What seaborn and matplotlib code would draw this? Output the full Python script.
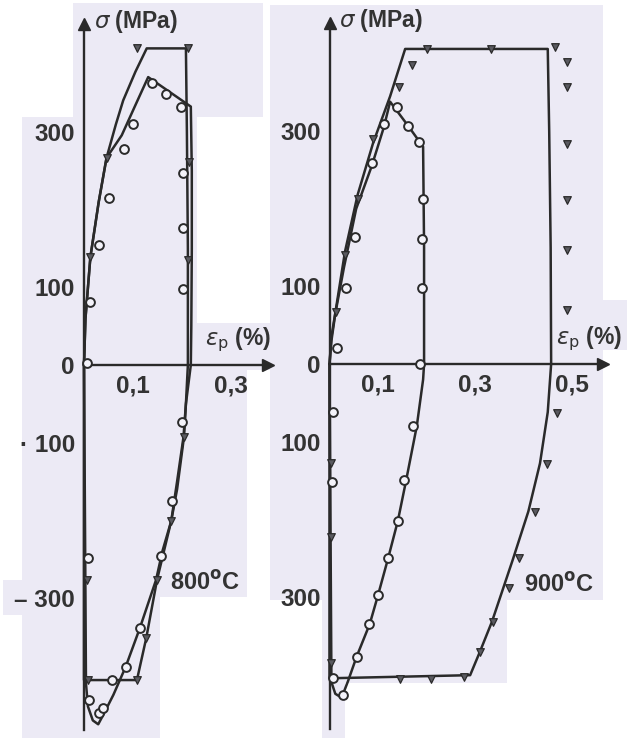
import numpy as np
import pandas as pd
import matplotlib
matplotlib.use("Agg")
import matplotlib.pyplot as plt
from matplotlib.patches import Rectangle
import seaborn as sns

sns.set_style("white")
plt.rcParams['font.family'] = ['Liberation Sans', 'DejaVu Sans']
plt.rcParams['mathtext.fontset'] = 'dejavusans'

# ---------------- data : 800 C ----------------
tri800_line_eps = [0, 0.003, 0.013, 0.03, 0.046, 0.065, 0.08, 0.105, 0.128, 0.208, 0.21, 0.212, 0.212,
                   0.208, 0.204, 0.19, 0.178, 0.149, 0.127, 0.108, 0.0, 0.0]
tri800_line_sig = [0, 60, 139, 210, 267, 310, 341, 378, 408, 408, 300, 150, 0,
                   -50, -93, -160, -201, -277, -352, -406, -406, 0]
cir800_line_eps = [0, 0.003, 0.013, 0.03, 0.046, 0.077, 0.105, 0.131, 0.218, 0.22, 0.22, 0.219, 0.218,
                   0.208, 0.203, 0.19, 0.178, 0.16, 0.147, 0.114, 0.085, 0.06, 0.04, 0.029, 0.018,
                   0.008, 0.004, 0.003, 0.0]
cir800_line_sig = [0, 60, 139, 210, 267, 296, 335, 371, 333, 250, 150, 50, 0,
                   -50, -93, -150, -201, -240, -277, -339, -389, -425, -450, -463, -458,
                   -440, -410, -300, 0]
cir800_eps = [0.138, 0.167, 0.198, 0.1, 0.082, 0.051, 0.031, 0.012, 0.202, 0.202, 0.202, 0.006,
              0.2, 0.18, 0.157, 0.114, 0.086, 0.057, 0.01, 0.031, 0.039, 0.008]
cir800_sig = [363, 349, 332, 311, 278, 215, 155, 81, 247, 177, 98, 3,
              -73, -175, -246, -339, -389, -406, -432, -448, -442, -249]
tri800_eps = [0.108, 0.212, 0.047, 0.012, 0.215, 0.213, 0.204, 0.178, 0.149, 0.127, 0.008, 0.108, 0.006]
tri800_sig = [408, 408, 267, 139, 262, 135, -93, -201, -277, -352, -406, -406, -277]

# ---------------- data : 900 C ----------------
tri900_line_eps = [0, 0.004, 0.013, 0.032, 0.058, 0.09, 0.125, 0.156, 0.45, 0.453, 0.456, 0.457,
                   0.45, 0.434, 0.41, 0.378, 0.335, 0.31, 0.29, 0.0, 0.0]
tri900_line_sig = [0, 35, 70, 145, 218, 285, 345, 406, 406, 300, 150, 0,
                   -62, -128, -190, -252, -332, -371, -401, -405, 0]
cir900_line_eps = [0, 0.004, 0.012, 0.03, 0.055, 0.087, 0.112, 0.125, 0.162, 0.193, 0.195, 0.195,
                   0.193, 0.18, 0.158, 0.141, 0.121, 0.1, 0.083, 0.056, 0.038, 0.025, 0.012, 0.004, 0.0]
cir900_line_sig = [0, 30, 65, 125, 200, 255, 305, 338, 307, 280, 150, 0,
                   -20, -80, -150, -202, -250, -298, -335, -377, -409, -430, -425, -410, 0]
cir900_eps = [0.015, 0.034, 0.053, 0.087, 0.112, 0.139, 0.162, 0.184, 0.192, 0.19, 0.19, 0.187,
              0.172, 0.154, 0.141, 0.12, 0.1, 0.081, 0.056, 0.028, 0.007, 0.007, 0.005]
cir900_sig = [21, 98, 164, 259, 309, 331, 307, 286, 212, 161, 98, 0,
              -80, -150, -202, -250, -298, -335, -377, -427, -404, -62, -152]
tri900_eps = [0.013, 0.032, 0.058, 0.09, 0.143, 0.17, 0.2, 0.333, 0.465,
              0.49, 0.49, 0.49, 0.49, 0.49, 0.49,
              0.47, 0.449, 0.424, 0.39, 0.37, 0.337, 0.31, 0.277, 0.145, 0.21,
              0.003, 0.003, 0.003]
tri900_sig = [67, 140, 212, 290, 357, 385, 406, 406, 408,
              389, 357, 283, 211, 147, 70,
              -63, -129, -191, -250, -289, -332, -371, -403, -406, -406,
              -128, -223, -385]

ytick_vals = [-400, -300, -200, -100, 0, 100, 200, 300, 400]
ytick_left = ['', '\u2013 300', '', '\u00b7 100', '0', '100', '', '300', '']
ytick_right = ['', '300', '', '100', '0', '100', '', '300', '']
xtick_left = [0.1, 0.2, 0.3]
xlab_left = ['0,1', '', '0,3']
xtick_right = [0.1, 0.2, 0.3, 0.4, 0.5]
xlab_right = ['0,1', '', '0,3', '', '0,5']

W, H = 627, 738
fig = plt.figure(figsize=(W / 100, H / 100), dpi=100)
fig.patch.set_facecolor('white')

LAV = '#eceaf5'
bg_rects = [(73, 3, 263, 117), (22, 117, 197, 323), (22, 323, 277, 370), (22, 370, 247, 597),
            (3, 580, 80, 615), (22, 597, 160, 738),
            (270, 5, 603, 600), (603, 300, 627, 350), (322, 600, 507, 683), (322, 683, 345, 738)]
for (x0, y0, x1, y1) in bg_rects:
    fig.add_artist(Rectangle((x0 / W, 1 - y1 / H), (x1 - x0) / W, (y1 - y0) / H,
                             transform=fig.transFigure, facecolor=LAV, edgecolor='none', zorder=-5))

INK = '#2a2a2a'
TXT = '#333333'


def px_axes(xlim, x0px, xscale, y0px, yscale, ylim):
    left = x0px + xlim[0] * xscale
    right = x0px + xlim[1] * xscale
    top = y0px - ylim[1] * yscale
    bot = y0px - ylim[0] * yscale
    return [left / W, 1 - bot / H, (right - left) / W, (bot - top) / H]


YL = (-470, 450)
axL = fig.add_axes(px_axes((-0.15, 0.38), 84, 490, 365, 0.776, YL))
axR = fig.add_axes(px_axes((-0.05, 0.57), 329.5, 485, 364, 0.776, YL))


def draw(ax, xlim, xend, lines, circ, tri, yt_labels, xt, xl, temp, temp_pos, ep_pos):
    ax.set_facecolor('none')
    for ex, sy in lines:
        df = pd.DataFrame({'eps': ex, 'sig': sy})
        sns.lineplot(data=df, x='eps', y='sig', sort=False, estimator=None, ax=ax,
                     color=INK, lw=1.8, zorder=3)
    dfc = pd.DataFrame({'eps': circ[0], 'sig': circ[1]})
    sns.scatterplot(data=dfc, x='eps', y='sig', ax=ax, marker='o', s=40,
                    facecolor='#f4f3fa', edgecolor=INK, linewidth=1.4, zorder=4)
    dft = pd.DataFrame({'eps': tri[0], 'sig': tri[1]})
    sns.scatterplot(data=dft, x='eps', y='sig', ax=ax, marker='v', s=30,
                    facecolor='#5a5a60', edgecolor=INK, linewidth=0.9, zorder=4)
    ax.set_xlim(*xlim)
    ax.set_ylim(*YL)
    for s in ['top', 'right']:
        ax.spines[s].set_visible(False)
    ax.spines['left'].set_position(('data', 0))
    ax.spines['bottom'].set_position(('data', 0))
    ax.spines['left'].set_bounds(-470, 440)
    ax.spines['bottom'].set_bounds(0, xend)
    for s in ['left', 'bottom']:
        ax.spines[s].set_color(INK)
        ax.spines[s].set_linewidth(1.7)
    ax.plot([0], [440], marker='^', ms=9, color=INK, clip_on=False, zorder=5)
    ax.plot([xend], [0], marker='>', ms=9, color=INK, clip_on=False, zorder=5)
    ax.set_yticks(ytick_vals, yt_labels)
    ax.set_xticks(xt, xl)
    ax.tick_params(direction='inout', length=9, width=1.2, color=INK, labelsize=17.5,
                   labelcolor=TXT, pad=2)
    for lab in ax.get_xticklabels() + ax.get_yticklabels():
        lab.set_fontweight('bold')
    ax.set_xlabel('')
    ax.set_ylabel('')
    ax.text(0.02, 443, r'$\sigma$ (MPa)', fontsize=16.5, color=TXT, ha='left', va='center',
            fontweight='bold')
    ax.text(ep_pos[0], ep_pos[1], r'$\epsilon_{\mathrm{p}}$ (%)', fontsize=16.5, color=TXT,
            ha='left', va='center', fontweight='bold')
    ax.text(temp_pos[0], temp_pos[1], temp, fontsize=17, color=TXT, ha='left', va='center',
            fontweight='bold')


draw(axL, (-0.15, 0.38), 0.375,
     [(tri800_line_eps, tri800_line_sig), (cir800_line_eps, cir800_line_sig)],
     (cir800_eps, cir800_sig), (tri800_eps, tri800_sig),
     ytick_left, xtick_left, xlab_left, '800$^{\\mathbf{o}}$C', (0.175, -281), (0.247, 32))
draw(axR, (-0.05, 0.57), 0.564,
     [(tri900_line_eps, tri900_line_sig), (cir900_line_eps, cir900_line_sig)],
     (cir900_eps, cir900_sig), (tri900_eps, tri900_sig),
     ytick_right, xtick_right, xlab_right, '900$^{\\mathbf{o}}$C', (0.4, -285), (0.468, 33))

fig.savefig('out.png', dpi=100, facecolor='white')
